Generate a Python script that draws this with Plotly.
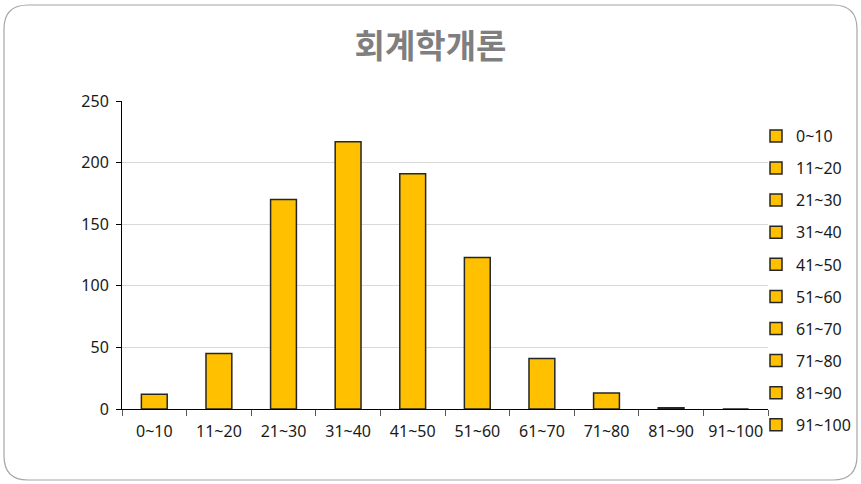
import plotly.graph_objects as go

categories = ["0~10", "11~20", "21~30", "31~40", "41~50", "51~60", "61~70", "71~80", "81~90", "91~100"]
counts = [12, 45, 170, 217, 191, 123, 41, 13, 1, 0]
y_ticks = [0, 50, 100, 150, 200, 250]
title_text = "회계학개론"

W, H = 861, 484
ML, MR, MT, MB = 122, 93, 101, 75
PW, PH = W - ML - MR, H - MT - MB

fig = go.Figure()
for i, (c, v) in enumerate(zip(categories, counts)):
    fig.add_trace(go.Bar(
        x=[c], y=[v], name=c, legendgroup=f"g{i}",
        marker=dict(color="#FFC000", line=dict(color="#262626", width=1.5)),
        width=0.4,
    ))

def px2x(px):
    return (px - ML) / PW

def py2y(py):
    return (H - MB - py) / PH

x0, x1, y0, y1, r = 4, 857, 5, 480, 24
pts = [
    ("M", x0 + r, y0), ("L", x1 - r, y0), ("Q", x1, y0, x1, y0 + r),
    ("L", x1, y1 - r), ("Q", x1, y1, x1 - r, y1), ("L", x0 + r, y1),
    ("Q", x0, y1, x0, y1 - r), ("L", x0, y0 + r), ("Q", x0, y0, x0 + r, y0),
]
path = ""
for p in pts:
    cmd = p[0]
    coords = p[1:]
    s = []
    for k in range(0, len(coords), 2):
        s.append(f"{px2x(coords[k]):.5f},{py2y(coords[k+1]):.5f}")
    path += cmd + " ".join(s) + " "
path += "Z"

fig.add_shape(type="path", path=path, xref="paper", yref="paper",
              line=dict(color="#a6a6a6", width=1.2), layer="below")

font_main = "Noto Sans, Noto Sans CJK KR, sans-serif"
fig.update_layout(
    width=W, height=H,
    margin=dict(l=ML, r=MR, t=MT, b=MB, autoexpand=False),
    paper_bgcolor="white", plot_bgcolor="white",
    barmode="overlay",
    title=dict(text=title_text, x=0.5, xanchor="center", y=1 - 46 / H, yanchor="middle",
               font=dict(family="Noto Sans CJK KR", size=33, color="#7f7f7f", weight="bold")),
    font=dict(family=font_main, size=16, color="#1a1a1a"),
    showlegend=True,
    legend=dict(xref="container", x=756 / W, xanchor="left",
                yref="container", y=1 - 119 / H, yanchor="top",
                font=dict(size=16, color="#1a1a1a"), tracegroupgap=8.3,
                traceorder="grouped", itemwidth=30, bgcolor="rgba(0,0,0,0)",
                maxheight=470),
    xaxis=dict(type="category", categoryorder="array", categoryarray=categories,
               showline=True, linecolor="#000000", linewidth=1,
               ticks="outside", tickson="boundaries", ticklen=6, tickcolor="#595959",
               ticklabelstandoff=8,
               showgrid=False, tickfont=dict(size=16, color="#1a1a1a")),
    yaxis=dict(range=[0, 250], tickvals=y_ticks, showline=True, linecolor="#000000", linewidth=1,
               ticks="outside", ticklen=5, tickcolor="#000000",
               showgrid=True, gridcolor="#d9d9d9", gridwidth=1, zeroline=False,
               ticklabelstandoff=4, tickfont=dict(size=16, color="#1a1a1a")),
)

fig.write_html("out.html", config={"displayModeBar": False},
               post_script="document.body.style.margin='0';document.body.style.overflow='hidden';")
